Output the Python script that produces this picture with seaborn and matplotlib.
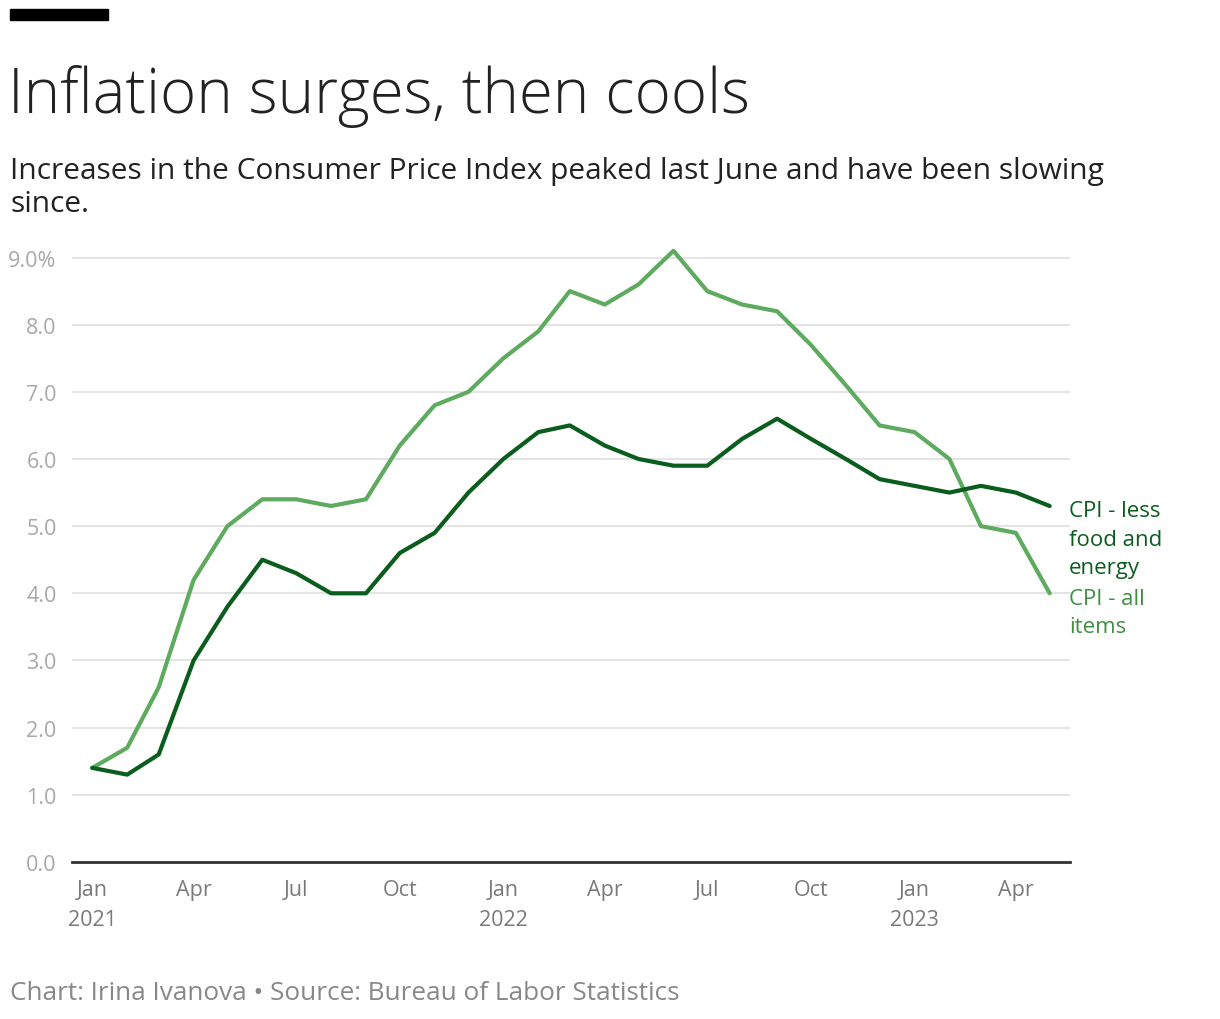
import numpy as np
import pandas as pd
import matplotlib
matplotlib.use("Agg")
import matplotlib.pyplot as plt
import seaborn as sns

months = pd.date_range("2021-01-01", "2023-05-01", freq="MS")
all_items = [1.4, 1.7, 2.6, 4.2, 5.0, 5.4, 5.4, 5.3, 5.4, 6.2, 6.8, 7.0,
             7.5, 7.9, 8.5, 8.3, 8.6, 9.1, 8.5, 8.3, 8.2, 7.7, 7.1, 6.5,
             6.4, 6.0, 5.0, 4.9, 4.0]
core = [1.4, 1.3, 1.6, 3.0, 3.8, 4.5, 4.3, 4.0, 4.0, 4.6, 4.9, 5.5,
        6.0, 6.4, 6.5, 6.2, 6.0, 5.9, 5.9, 6.3, 6.6, 6.3, 6.0, 5.7,
        5.6, 5.5, 5.6, 5.5, 5.3]
series_names = ["CPI - all items", "CPI - less food and energy"]
label_text = ["CPI - all\nitems", "CPI - less\nfood and\nenergy"]
yticks = [0, 1, 2, 3, 4, 5, 6, 7, 8, 9]
ytick_labels = ["0.0", "1.0", "2.0", "3.0", "4.0", "5.0", "6.0", "7.0", "8.0", "9.0%"]
xtick_dates = pd.to_datetime(["2021-01-01", "2021-04-01", "2021-07-01", "2021-10-01",
                              "2022-01-01", "2022-04-01", "2022-07-01", "2022-10-01",
                              "2023-01-01", "2023-04-01"])
xtick_labels = ["Jan\n2021", "Apr", "Jul", "Oct", "Jan\n2022", "Apr", "Jul", "Oct",
                "Jan\n2023", "Apr"]

df = pd.DataFrame({
    "date": list(months) * 2,
    "value": all_items + core,
    "series": [series_names[0]] * len(months) + [series_names[1]] * len(months),
})

sns.set_style("white")
plt.rcParams["font.family"] = ["Open Sans", "DejaVu Sans"]

light = "#5eab5f"
dark = "#0b5d1e"
colors = {series_names[0]: light, series_names[1]: dark}
label_colors = ["#3f9044", dark]

fig = plt.figure(figsize=(12.2, 10.2), dpi=100)
ax = fig.add_axes([0.059, 0.154, 0.818, 0.609])

sns.lineplot(data=df, x="date", y="value", hue="series", palette=colors,
             linewidth=3, legend=False, ax=ax)

ax.set_ylim(0, 9.25)
pad = pd.Timedelta(days=18)
ax.set_xlim(months[0] - pad, months[-1] + pad)
ax.set_yticks(yticks)
ax.set_yticklabels(ytick_labels)
ax.set_xticks(xtick_dates)
ax.set_xticklabels(xtick_labels, linespacing=1.6)
ax.tick_params(axis="y", length=0, pad=11, labelsize=15.5, labelcolor="#a8a8a8")
ax.tick_params(axis="x", length=0, pad=12, labelsize=15.5, labelcolor="#7a7a7a")
ax.grid(axis="y", color="#e4e4e4", linewidth=1.5)
ax.set_axisbelow(True)
for s in ["top", "right", "left"]:
    ax.spines[s].set_visible(False)
ax.spines["bottom"].set_color("#333333")
ax.spines["bottom"].set_linewidth(2)
ax.set_xlabel("")
ax.set_ylabel("")

# end labels
last_vals = [all_items[-1], core[-1]]
for txt, val, c in zip(label_text, last_vals, label_colors):
    ax.annotate(txt, xy=(months[-1], val), xytext=(14, 4), textcoords="offset points",
                va="top", ha="left", fontsize=16, color=c, linespacing=1.45,
                annotation_clip=False)

# header
fig.patches.append(plt.Rectangle((10 / 1220, 1 - 21 / 1020), 98 / 1220, 11 / 1020,
                                 transform=fig.transFigure, color="black"))
fig.text(8 / 1220, 1 - 97 / 1020, "Inflation surges, then cools", fontsize=44.5,
         fontweight="light", color="#222222", va="center", ha="left")
fig.text(10 / 1220, 1 - 188 / 1020,
         "Increases in the Consumer Price Index peaked last June and have been slowing\nsince.",
         fontsize=21.5, color="#222222", va="center", ha="left", linespacing=1.15)
fig.text(10 / 1220, 1 - 994 / 1020, "Chart: Irina Ivanova \u2022 Source: Bureau of Labor Statistics",
         fontsize=18.8, color="#888888", va="center", ha="left")

fig.savefig("out.png", dpi=100)
